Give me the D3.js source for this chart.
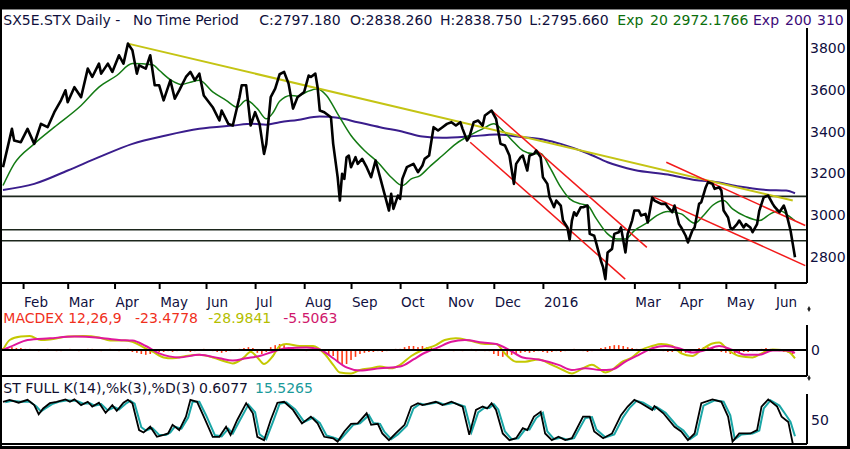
<!DOCTYPE html>
<html>
<head>
<meta charset="utf-8">
<script src="https://cdn.jsdelivr.net/npm/d3@7"></script>
<style>
  html, body { margin: 0; padding: 0; background: #fff; }
  svg { display: block; font-family: "DejaVu Sans", Verdana, sans-serif; }
</style>
</head>
<body>
<div id="chart"></div>
<script>
// SX5E daily, Jan 2015 - Jun 2016. x = trading day index from the first bar.
const closePts = [[0,3229],[4,3413],[5,3357],[8,3349],[11,3413],[14,3341],[17,3437],[20,3421],[23,3493],[26,3550],[28,3598],[29,3541],[32,3613],[35,3565],[38,3702],[40,3662],[43,3726],[44,3678],[47,3726],[49,3686],[52,3766],[54,3726],[56,3822],[58,3790],[60,3678],[61,3718],[64,3702],[66,3766],[68,3622],[70,3622],[72,3550],[75,3646],[77,3558],[79,3598],[82,3662],[84,3686],[86,3646],[88,3678],[90,3573],[94,3517],[97,3453],[98,3501],[101,3437],[103,3429],[106,3565],[107,3622],[109,3622],[111,3429],[113,3493],[115,3437],[117,3293],[118,3341],[120,3565],[122,3606],[124,3675],[126,3686],[128,3630],[130,3510],[132,3565],[135,3590],[137,3669],[138,3662],[140,3678],[141,3613],[142,3501],[144,3493],[147,3469],[148,3341],[150,3181],[151,3069],[152,3197],[153,3173],[154,3277],[155,3285],[156,3229],[158,3277],[159,3245],[161,3269],[163,3229],[165,3181],[167,3261],[169,3181],[171,3101],[173,3021],[174,3101],[175,3029],[177,3093],[178,3077],[179,3173],[181,3229],[184,3245],[186,3205],[188,3237],[189,3269],[191,3285],[193,3421],[195,3405],[197,3421],[199,3437],[201,3445],[203,3429],[205,3445],[206,3413],[208,3357],[209,3373],[211,3445],[213,3453],[215,3429],[216,3477],[219,3501],[221,3461],[223,3341],[225,3333],[227,3285],[229,3149],[230,3245],[232,3277],[233,3285],[235,3213],[236,3285],[238,3293],[239,3309],[241,3277],[242,3181],[244,3149],[245,3085],[247,3037],[248,3069],[250,3045],[251,2973],[253,2940],[254,2880],[255,2973],[256,3013],[257,2997],[259,3037],[260,3037],[262,3045],[263,2909],[265,2900],[266,2861],[268,2780],[269,2748],[270,2692],[271,2820],[273,2837],[274,2909],[276,2917],[277,2940],[279,2820],[280,2909],[282,2973],[283,3021],[285,3021],[286,2997],[288,3005],[289,2964],[291,3085],[292,3069],[295,3053],[297,3053],[298,3037],[300,3013],[301,3045],[303,2956],[304,2940],[306,2900],[307,2868],[309,2925],[310,2940],[312,3053],[313,3061],[315,3133],[316,3157],[318,3149],[319,3125],[321,3133],[322,3117],[323,3021],[325,2988],[326,2940],[327,2932],[329,2956],[330,2973],[332,2940],[333,2956],[335,2940],[336,2917],[338,2956],[339,3021],[341,3085],[343,3093],[345,3053],[346,3037],[348,3013],[350,3045],[351,3013],[353,2925],[354,2861],[355,2797]];

const exp20Pts = [[0,3141],[5,3245],[14,3341],[23,3421],[35,3525],[43,3613],[51,3669],[58,3726],[67,3721],[70,3694],[75,3649],[80,3626],[84,3637],[88,3646],[94,3590],[100,3550],[105,3517],[109,3550],[114,3510],[118,3461],[121,3490],[124,3545],[129,3573],[132,3570],[136,3590],[141,3606],[145,3573],[150,3485],[156,3381],[162,3309],[168,3253],[174,3181],[179,3141],[183,3173],[187,3189],[191,3229],[197,3285],[203,3341],[209,3381],[215,3413],[220,3437],[224,3405],[229,3349],[233,3309],[238,3293],[241,3295],[245,3230],[250,3133],[254,3077],[259,3053],[262,3045],[266,2981],[271,2909],[275,2885],[279,2885],[283,2925],[289,2964],[293,2997],[298,3017],[304,3005],[310,2960],[314,2997],[318,3045],[323,3069],[327,3029],[333,2992],[339,2973],[344,3005],[348,3021],[352,2997],[355,2972]];

const exp200Pts = [[0,3120],[14,3149],[29,3213],[43,3277],[58,3341],[73,3381],[88,3413],[103,3429],[112,3437],[118,3433],[124,3445],[132,3456],[142,3472],[150,3466],[159,3445],[169,3421],[180,3397],[188,3376],[197,3370],[209,3376],[221,3386],[233,3373],[243,3360],[250,3341],[262,3296],[271,3253],[283,3216],[298,3194],[310,3168],[320,3157],[330,3136],[342,3120],[351,3117],[355,3104]];

// hand drawn lines: [day, price] -> [day, price]
const yellowTrend = [[56,3822],[354,3069]];
const redTrends = [
  [[219,3501],[288.6,2844]],
  [[209.4,3349],[278.9,2692]],
  [[297.3,3253],[359.6,2949]],
  [[290.9,3089],[359.6,2757]]
];
const hLevels = [3089, 2929, 2876];

const monthDays = [9, 29, 50, 70, 91, 113, 135, 156, 178, 199, 220, 242, 283, 303, 324, 346];
const monthLabels = ['Feb','Mar','Apr','May','Jun','Jul','Aug','Sep','Oct','Nov','Dec','2016','Mar','Apr','May','Jun'];
const priceTicks = [2800, 3000, 3200, 3400, 3600, 3800];

// MACD (12,26,9)
const macdPts = [[0,0],[3,35],[8,47],[12,49],[17,35],[21,37],[29,47],[36,49],[43,44],[48,33],[54,33],[58,29],[63,9],[67,-6],[72,-26],[76,-29],[82,-21],[88,-17],[94,-26],[100,-41],[103,-47],[108,-26],[111,-6],[114,-26],[117,-49],[121,-21],[124,14],[127,21],[133,14],[139,14],[144,-12],[148,-52],[151,-79],[156,-82],[160,-70],[165,-64],[169,-58],[174,-64],[178,-52],[183,-21],[188,0],[194,17],[198,35],[203,41],[209,33],[216,21],[221,21],[225,-12],[230,-41],[234,-41],[240,-33],[246,-52],[251,-70],[255,-82],[260,-64],[264,-52],[267,-64],[270,-79],[273,-70],[277,-44],[282,-26],[286,0],[291,14],[295,21],[300,14],[304,-12],[309,-21],[313,0],[318,23],[321,26],[325,0],[330,-21],[336,-26],[340,-12],[345,2],[349,0],[352,-6],[355,-29]];
const signalPts = [[0,0],[5,17],[11,35],[21,41],[32,47],[43,43],[52,35],[58,33],[64,14],[70,-12],[79,-26],[88,-17],[97,-29],[103,-37],[109,-29],[115,-21],[121,-6],[127,6],[136,9],[142,2],[148,-29],[154,-61],[160,-72],[169,-64],[178,-58],[184,-33],[188,-14],[195,9],[201,29],[207,35],[215,26],[221,21],[227,0],[233,-26],[240,-33],[249,-52],[255,-70],[261,-64],[268,-70],[273,-68],[279,-41],[285,-17],[291,6],[297,14],[303,6],[309,-9],[315,0],[321,14],[327,0],[333,-17],[339,-17],[345,-2],[351,-2],[355,-10]];
// histogram, one bar every second session starting at day 0
const histVals = [7,10,10,7,7,4,
  4,2,-4,-2,4,2,-4,-4,2,4,2,-4,-2,4,4,2,-4,-2,4,2,-4,-2,4,
  -7,-10,-14,-17,-14,-10,-7,
  -7,-4,-7,-4,-2,-4,-7,-4,2,4,2,-4,-7,-10,-7,-4,2,4,
  7,10,7, -10,-14,-7, 10,17,21,17,10, 7,4,2,-4,4,-2,-4, -10,-17,-21,
  -42,-52,-49,-35,-24, -14,-10,-7,-7,-4,-7,-4,-2,4,4,
  10,14,14,10,14,10,7,7,4,2, 4,-4,2,-4,-2,4,-4,2,-4,-4,
  -14,-21,-24,-21,-17,-14, -10,-7,-10,-7,-4,-7,-10,-7,-4,-7,
  -4,2,4,2,-4,-7,-4,2, 7,10,14,17,17,14,10,7,4,
  4,-2,-4,4,2,-4,-7,-7,-4, -10,-10,-7,-4, 7,10,10,7,4,
  -7,-10,-14,-14,-10,-7,-7,-4,-4, 4,7,4,2,-4,-7,-10,-14];

// Full stochastic 14,3,3
const stochK = [[0,88],[3,92],[7,86],[11,92],[14,81],[16,62],[18,74],[21,85],[24,88],[28,93],[30,88],[32,93],[35,81],[38,88],[40,78],[43,86],[46,65],[49,81],[51,69],[54,86],[56,92],[58,85],[61,29],[63,24],[66,36],[69,15],[72,19],[74,22],[76,40],[79,29],[82,57],[84,92],[87,88],[90,57],[94,15],[97,15],[100,36],[102,19],[105,50],[109,85],[112,64],[114,15],[117,8],[120,50],[123,86],[126,88],[130,71],[134,43],[138,57],[141,43],[144,15],[148,12],[150,5],[153,26],[156,42],[159,43],[163,64],[165,40],[168,42],[170,22],[173,8],[176,22],[180,40],[183,78],[186,85],[188,81],[194,88],[197,81],[201,88],[206,78],[209,19],[212,71],[215,78],[217,74],[219,85],[221,71],[224,22],[227,8],[230,12],[233,33],[235,29],[238,57],[241,67],[243,22],[246,8],[249,15],[252,8],[255,12],[260,57],[263,57],[265,26],[269,12],[273,22],[277,60],[280,78],[283,92],[286,85],[291,71],[292,79],[296,64],[301,36],[304,26],[307,8],[310,22],[313,85],[318,93],[322,88],[325,57],[327,5],[330,22],[335,22],[338,29],[340,78],[343,93],[347,78],[349,57],[352,46],[354,1]];
const stochD = [[1,87],[4,90],[8,88],[12,88],[15,78],[17,68],[19,74],[22,83],[25,88],[29,91],[31,90],[33,90],[36,84],[39,85],[41,80],[44,83],[47,70],[50,77],[52,72],[55,84],[57,90],[59,84],[62,35],[64,28],[67,33],[70,19],[73,19],[75,24],[77,36],[80,32],[83,55],[85,88],[88,88],[91,60],[95,18],[98,16],[101,32],[103,22],[106,48],[110,82],[113,66],[115,20],[118,10],[121,46],[124,84],[127,87],[131,72],[135,46],[139,55],[142,44],[145,18],[149,12],[151,8],[154,24],[157,40],[160,43],[164,60],[166,44],[169,42],[171,25],[174,10],[177,20],[181,38],[184,74],[187,84],[189,82],[195,87],[198,82],[202,86],[207,78],[210,25],[213,66],[216,76],[218,75],[220,83],[222,72],[225,26],[228,10],[231,12],[234,30],[236,30],[239,54],[242,65],[244,26],[247,10],[250,13],[253,9],[256,12],[261,54],[264,56],[266,30],[270,14],[274,20],[278,56],[281,76],[284,90],[287,86],[292,72],[293,77],[297,65],[302,38],[305,28],[308,10],[311,20],[314,80],[319,91],[323,88],[326,60],[328,10],[331,20],[336,22],[339,28],[341,74],[344,91],[348,80],[351,60],[353,46],[355,16]];

const W = 850, H = 449;
const axisX = 807;          // right hand price axis
const mainBottom = 283;

const svg = d3.select('#chart').append('svg')
    .attr('width', W)
    .attr('height', H);

const x = d3.scaleLinear().domain([0, 355]).range([3, 795]);
const y = d3.scaleLinear().domain([2800, 3800]).range([256.6, 48.2]);
const yMacd = d3.scaleLinear().domain([-90, 90]).range([375.7, 324.3]);
const ySt = d3.scaleLinear().domain([0, 100]).range([444, 396]);

const defs = svg.append('defs');
defs.append('clipPath').attr('id', 'clipMain')
    .append('rect').attr('x', 2).attr('y', 28).attr('width', axisX - 2).attr('height', mainBottom - 28);
defs.append('clipPath').attr('id', 'clipLow')
    .append('rect').attr('x', 2).attr('y', 300).attr('width', axisX - 2).attr('height', 146);

const lineOf = (ys, curve) => d3.line()
    .x(d => x(d[0]))
    .y(d => ys(d[1]))
    .curve(curve || d3.curveLinear);

// ---------- main price panel
const main = svg.append('g').attr('clip-path', 'url(#clipMain)');

main.selectAll('.level')
    .data(hLevels)
    .enter().append('line')
    .attr('x1', 0).attr('x2', axisX)
    .attr('y1', d => y(d)).attr('y2', d => y(d))
    .attr('stroke', '#1c261c').attr('stroke-width', 1.6);

main.append('path').datum(exp200Pts)
    .attr('fill', 'none').attr('stroke', '#3a1d8c').attr('stroke-width', 2)
    .attr('d', lineOf(y, d3.curveMonotoneX));

main.append('path').datum(exp20Pts)
    .attr('fill', 'none').attr('stroke', '#137a13').attr('stroke-width', 1.5)
    .attr('d', lineOf(y, d3.curveMonotoneX));

main.append('path').datum(yellowTrend)
    .attr('fill', 'none').attr('stroke', '#c4c414').attr('stroke-width', 2)
    .attr('d', lineOf(y));

main.selectAll('.red-trend')
    .data(redTrends)
    .enter().append('path')
    .attr('class', 'red-trend')
    .attr('fill', 'none').attr('stroke', '#f21a1a').attr('stroke-width', 1.5)
    .attr('d', lineOf(y));

main.append('path').datum(closePts)
    .attr('fill', 'none').attr('stroke', '#000').attr('stroke-width', 2.6)
    .attr('stroke-linejoin', 'round')
    .attr('d', lineOf(y));

// price axis on the right
svg.append('line')
    .attr('x1', axisX).attr('x2', axisX).attr('y1', 28).attr('y2', mainBottom)
    .attr('stroke', '#000').attr('stroke-width', 2);

const yAxis = svg.append('g')
    .attr('transform', `translate(${axisX},0)`)
    .call(d3.axisRight(y).tickValues(priceTicks).tickSize(0).tickPadding(3)
        .tickFormat(d3.format('d')));
yAxis.select('.domain').remove();
yAxis.attr('font-family', null).attr('font-size', 14);
yAxis.selectAll('text').attr('fill', '#101040');

// month axis
svg.append('line')
    .attr('x1', 0).attr('x2', axisX).attr('y1', mainBottom).attr('y2', mainBottom)
    .attr('stroke', '#000').attr('stroke-width', 2);

const xAxis = svg.append('g')
    .attr('transform', `translate(0,${mainBottom})`)
    .call(d3.axisBottom(x).tickValues(monthDays).tickSize(6).tickPadding(8)
        .tickFormat((d, i) => monthLabels[i]));
xAxis.select('.domain').remove();
xAxis.attr('font-family', null).attr('font-size', 13.5).attr('text-anchor', 'start');
xAxis.selectAll('line').attr('stroke', '#000').attr('stroke-width', 2);
xAxis.selectAll('text').attr('x', 0.5).attr('fill', '#101040');

// ---------- MACD panel
const low = svg.append('g').attr('clip-path', 'url(#clipLow)');

low.selectAll('.hist')
    .data(histVals)
    .enter().append('rect')
    .attr('class', 'hist')
    .attr('x', (d, i) => x(i * 2) - 0.8)
    .attr('width', 1.6)
    .attr('y', d => Math.min(yMacd(0), yMacd(d)))
    .attr('height', d => Math.abs(yMacd(d) - yMacd(0)))
    .attr('fill', '#ff3a14');

svg.append('line')
    .attr('x1', 0).attr('x2', axisX).attr('y1', yMacd(0)).attr('y2', yMacd(0))
    .attr('stroke', '#000').attr('stroke-width', 2);

low.append('path').datum(macdPts)
    .attr('fill', 'none').attr('stroke', '#c4c800').attr('stroke-width', 2)
    .attr('d', lineOf(yMacd, d3.curveMonotoneX));
low.append('path').datum(signalPts)
    .attr('fill', 'none').attr('stroke', '#e0169c').attr('stroke-width', 2)
    .attr('d', lineOf(yMacd, d3.curveMonotoneX));

svg.append('line')
    .attr('x1', axisX).attr('x2', axisX).attr('y1', 325).attr('y2', 376)
    .attr('stroke', '#000').attr('stroke-width', 2);
svg.append('line')
    .attr('x1', 0).attr('x2', axisX).attr('y1', 376).attr('y2', 376)
    .attr('stroke', '#000').attr('stroke-width', 2);

const macdAxis = svg.append('g')
    .attr('transform', `translate(${axisX},0)`)
    .call(d3.axisRight(yMacd).tickValues([0]).tickSize(0).tickPadding(4));
macdAxis.select('.domain').remove();
macdAxis.attr('font-family', null).attr('font-size', 14);
macdAxis.selectAll('text').attr('fill', '#101040');

// ---------- stochastic panel
low.append('path').datum(stochD)
    .attr('fill', 'none').attr('stroke', '#1aa6a6').attr('stroke-width', 2)
    .attr('d', lineOf(ySt));
low.append('path').datum(stochK)
    .attr('fill', 'none').attr('stroke', '#000').attr('stroke-width', 1.8)
    .attr('d', lineOf(ySt));

svg.append('line')
    .attr('x1', axisX).attr('x2', axisX).attr('y1', 394).attr('y2', 444)
    .attr('stroke', '#000').attr('stroke-width', 2);
svg.append('line')
    .attr('x1', 0).attr('x2', axisX).attr('y1', 444).attr('y2', 444)
    .attr('stroke', '#000').attr('stroke-width', 2);

const stAxis = svg.append('g')
    .attr('transform', `translate(${axisX},0)`)
    .call(d3.axisRight(ySt).tickValues([50]).tickSize(0).tickPadding(4));
stAxis.select('.domain').remove();
stAxis.attr('font-family', null).attr('font-size', 14);
stAxis.selectAll('text').attr('fill', '#101040');

// little scroll markers beside the MACD axis
[309, 378].forEach(cy => {
    svg.append('path')
        .attr('transform', `translate(${axisX + 2},${cy})`)
        .attr('d', d3.symbol(d3.symbolDiamond, 10)())
        .attr('fill', '#222');
});

// ---------- titles (word by word, the source uses wide spacing)
const navy = '#10103c', green = '#0b6e0b', violet = '#3c0c78';
const titles = [
    { x: 3.3, y: 25, t: 'SX5E.STX Daily -', c: navy },
    { x: 133, y: 25, t: 'No Time Period', c: navy },
    { x: 259.3, y: 25, t: 'C:2797.180', c: navy },
    { x: 350, y: 25, t: 'O:2838.260', c: navy },
    { x: 440, y: 25, t: 'H:2838.750', c: navy },
    { x: 529.3, y: 25, t: 'L:2795.660', c: navy },
    { x: 617.3, y: 25, t: 'Exp', c: green },
    { x: 650, y: 25, t: '20', c: green },
    { x: 672.7, y: 25, t: '2972.1766', c: green },
    { x: 753, y: 25, t: 'Exp', c: violet },
    { x: 785, y: 25, t: '200', c: violet },
    { x: 817, y: 25, t: '310', c: violet },
    { x: 3.3, y: 323, t: 'MACDEX 12,26,9', c: '#f0301c' },
    { x: 135, y: 323, t: '-23.4778', c: '#f0301c' },
    { x: 208.3, y: 323, t: '-28.9841', c: '#b4be00' },
    { x: 283.3, y: 323, t: '-5.5063', c: '#d0186c' },
    { x: 3.3, y: 392.5, t: 'ST FULL K(14),%k(3),%D(3)', c: '#101030' },
    { x: 199, y: 392.5, t: '0.6077', c: '#101030' },
    { x: 255, y: 392.5, t: '15.5265', c: '#1a9a9a' }
];
svg.selectAll('.title')
    .data(titles)
    .enter().append('text')
    .attr('class', 'title')
    .attr('x', d => d.x).attr('y', d => d.y)
    .attr('font-size', 14)
    .attr('fill', d => d.c)
    .text(d => d.t);

// ---------- frame
svg.append('rect').attr('x', 0).attr('y', 0).attr('width', W).attr('height', 9.5).attr('fill', '#000');
svg.append('rect').attr('x', 0).attr('y', 0).attr('width', 2).attr('height', H).attr('fill', '#000');
svg.append('rect').attr('x', W - 3).attr('y', 0).attr('width', 3).attr('height', H).attr('fill', '#000');
svg.append('rect').attr('x', 0).attr('y', H - 3).attr('width', W).attr('height', 3).attr('fill', '#000');
</script>
</body>
</html>
